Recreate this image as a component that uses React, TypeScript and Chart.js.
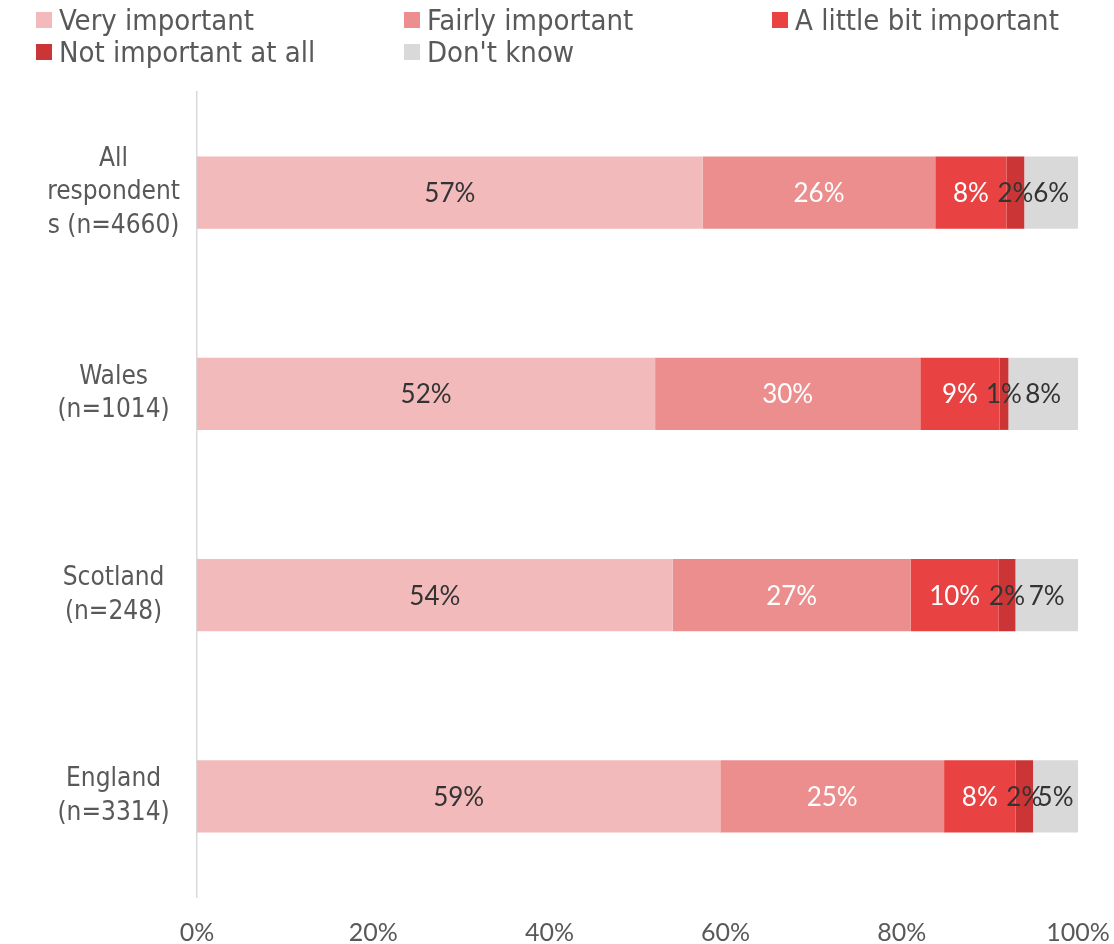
import React, { useEffect, useRef } from "react";
import { Chart, registerables } from "chart.js";

Chart.register(...registerables);

const categories: string[][] = [
  ["All", "respondent", "s (n=4660)"],
  ["Wales", "(n=1014)"],
  ["Scotland", "(n=248)"],
  ["England", "(n=3314)"],
];

const seriesNames = [
  "Very important",
  "Fairly important",
  "A little bit important",
  "Not important at all",
  "Don't know",
];

const veryImportant = [57.4, 52.0, 54.0, 59.4];
const fairlyImportant = [26.4, 30.1, 27.0, 25.4];
const littleBitImportant = [8.1, 9.0, 10.0, 8.1];
const notImportantAtAll = [2.0, 1.0, 1.9, 2.0];
const dontKnow = [6.1, 7.9, 7.1, 5.1];

const xTicks = [0, 20, 40, 60, 80, 100];

const seriesColors = ["#F2BABA", "#EC8E8E", "#E84242", "#CC3535", "#D9D9D9"];
const labelColors = ["#333333", "#FFFFFF", "#FFFFFF", "#333333", "#333333"];

const LABEL_FONT = "'Liberation Sans Narrow', 'Arial Narrow', Lato, sans-serif";
const TEXT_FONT = "'DejaVu Sans Condensed', 'DejaVu Sans', sans-serif";

const barLabelPlugin = {
  id: "barLabels",
  afterDatasetsDraw(chart: any) {
    const ctx = chart.ctx;
    ctx.save();
    ctx.font = `26px ${LABEL_FONT}`;
    ctx.textAlign = "center";
    ctx.textBaseline = "middle";
    chart.data.datasets.forEach((ds: any, di: number) => {
      const meta = chart.getDatasetMeta(di);
      meta.data.forEach((el: any, i: number) => {
        const v = ds.data[i];
        const cx = (el.x + el.base) / 2;
        ctx.fillStyle = labelColors[di];
        ctx.fillText(Math.round(v) + "%", cx, el.y + 1);
      });
    });
    ctx.restore();
  },
};

export default function App() {
  const ref = useRef<HTMLCanvasElement>(null);

  useEffect(() => {
    const seriesData = [veryImportant, fairlyImportant, littleBitImportant, notImportantAtAll, dontKnow];
    const chart = new Chart(ref.current!, {
      type: "bar",
      data: {
        labels: categories,
        datasets: seriesNames.map((name, i) => ({
          label: name,
          data: seriesData[i],
          backgroundColor: seriesColors[i],
          borderWidth: 0,
          barPercentage: 0.358,
          categoryPercentage: 1,
        })),
      },
      options: {
        indexAxis: "y",
        animation: false,
        responsive: false,
        layout: { padding: { top: 92, right: 36, left: 0, bottom: 0 } },
        plugins: { legend: { display: false }, tooltip: { enabled: false } },
        scales: {
          x: {
            stacked: true,
            min: 0,
            max: 100,
            afterBuildTicks: (s: any) => {
              s.ticks = xTicks.map((v) => ({ value: v }));
            },
            afterFit: (s: any) => {
              s.height = 47;
              s.paddingLeft = 0;
              s.paddingRight = 0;
            },
            grid: { display: false, drawTicks: false },
            border: { display: false },
            ticks: {
              padding: 21,
              color: "#595959",
              font: { family: LABEL_FONT, size: 25 },
              callback: (v: any) => v + "%",
              maxRotation: 0,
              autoSkip: false,
            },
          },
          y: {
            stacked: true,
            afterFit: (s: any) => {
              s.width = 197;
              s.paddingTop = 0;
              s.paddingBottom = 0;
            },
            grid: { display: false, drawTicks: false },
            border: { display: true, color: "#D9D9D9", width: 1.5 },
            ticks: {
              padding: 17,
              crossAlign: "center",
              color: "#595959",
              font: { family: TEXT_FONT, size: 26, lineHeight: 1.28 },
            },
          },
        },
      },
      plugins: [barLabelPlugin],
    });
    return () => chart.destroy();
  }, []);

  const legendPos = [
    { left: 36, top: 4 },
    { left: 404, top: 4 },
    { left: 772, top: 4 },
    { left: 36, top: 36 },
    { left: 404, top: 36 },
  ];

  return (
    <div style={{ position: "fixed", left: 0, top: 0, width: 1114, height: 944, background: "#fff" }}>
      <canvas ref={ref} width={1114} height={944} style={{ position: "absolute", left: 0, top: 0 }} />
      {seriesNames.map((name, i) => (
        <div
          key={name}
          style={{
            position: "absolute",
            left: legendPos[i].left,
            top: legendPos[i].top,
            height: 32,
            display: "flex",
            alignItems: "center",
            fontFamily: TEXT_FONT,
            fontSize: 29,
            color: "#595959",
            whiteSpace: "nowrap",
          }}
        >
          <span style={{ width: 16, height: 16, background: seriesColors[i], marginRight: 7, display: "inline-block" }} />
          {name}
        </div>
      ))}
    </div>
  );
}
